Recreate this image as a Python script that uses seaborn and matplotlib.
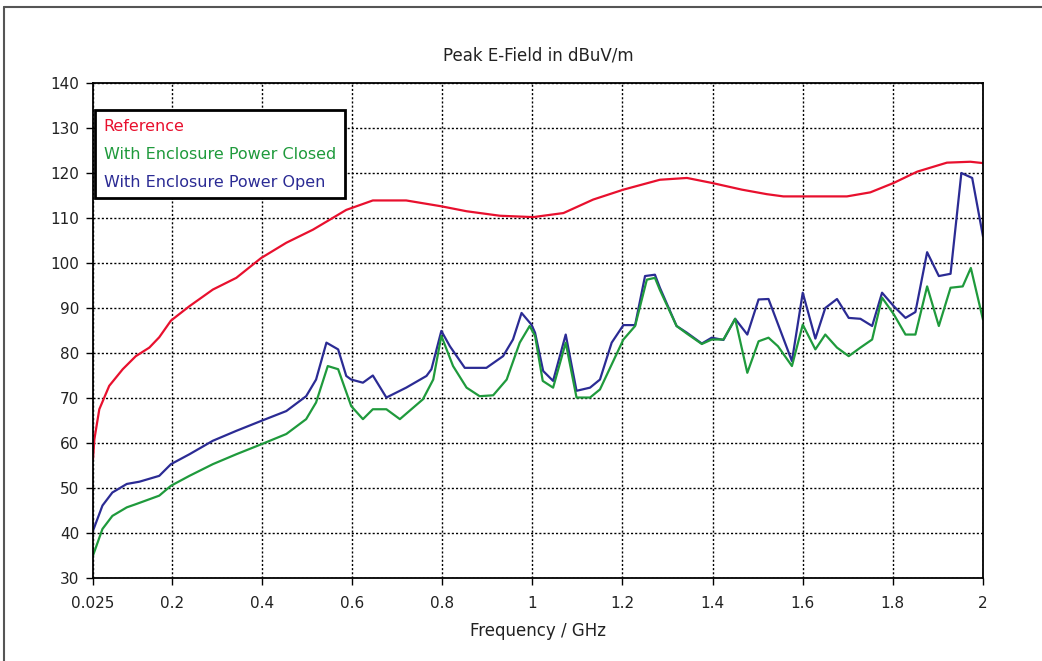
import matplotlib
matplotlib.use("Agg")
import matplotlib.pyplot as plt
import seaborn as sns
import pandas as pd
from matplotlib.lines import Line2D

# ---------------- data ----------------
ref_freq = [0.025, 0.028, 0.039, 0.061, 0.091, 0.120, 0.150, 0.172, 0.198, 0.239,
            0.291, 0.343, 0.398, 0.454, 0.513, 0.587, 0.646, 0.720, 0.798, 0.854,
            0.928, 1.002, 1.069, 1.135, 1.202, 1.283, 1.343, 1.398, 1.465, 1.520,
            1.557, 1.600, 1.698, 1.750, 1.802, 1.854, 1.920, 1.972, 2.000]
ref_val = [56.4, 60.8, 67.5, 72.7, 76.4, 79.3, 81.2, 83.5, 87.2, 90.4,
           94.1, 96.7, 101.1, 104.5, 107.4, 111.8, 113.9, 113.9, 112.6, 111.5,
           110.5, 110.2, 111.1, 114.1, 116.3, 118.5, 118.9, 117.8, 116.3, 115.3,
           114.8, 114.8, 114.8, 115.7, 117.8, 120.3, 122.3, 122.5, 122.2]

open_freq = [0.025, 0.046, 0.068, 0.100, 0.128, 0.172, 0.198, 0.239, 0.291, 0.343,
             0.398, 0.454, 0.498, 0.520, 0.543, 0.569, 0.587, 0.598, 0.624, 0.646,
             0.676, 0.720, 0.765, 0.776, 0.798, 0.817, 0.850, 0.898, 0.935, 0.957,
             0.976, 0.998, 1.006, 1.024, 1.046, 1.074, 1.098, 1.128, 1.150, 1.176,
             1.202, 1.228, 1.250, 1.272, 1.283, 1.320, 1.343, 1.376, 1.398, 1.424,
             1.450, 1.477, 1.502, 1.524, 1.576, 1.600, 1.628, 1.650, 1.676, 1.702,
             1.728, 1.754, 1.776, 1.802, 1.828, 1.850, 1.876, 1.902, 1.928, 1.952,
             1.976, 2.000]
open_val = [40.5, 46.1, 49.0, 50.9, 51.4, 52.7, 55.3, 57.5, 60.5, 62.7,
            64.9, 67.1, 70.4, 74.1, 82.3, 80.8, 74.9, 74.1, 73.4, 75.0,
            70.1, 72.3, 74.9, 76.4, 84.9, 81.5, 76.7, 76.7, 79.3, 83.0,
            88.9, 86.3, 84.5, 76.0, 73.8, 84.1, 71.6, 72.3, 74.1, 82.3,
            86.2, 86.2, 97.1, 97.4, 94.5, 86.0, 84.5, 82.1, 83.4, 82.9,
            87.6, 84.1, 91.9, 92.0, 78.2, 93.4, 83.2, 90.0, 92.0, 87.8,
            87.6, 86.0, 93.4, 90.4, 87.8, 89.1, 102.4, 97.1, 97.6, 120.0,
            118.9, 105.9]

closed_freq = [0.025, 0.046, 0.068, 0.100, 0.120, 0.172, 0.198, 0.239, 0.291, 0.343,
               0.398, 0.454, 0.498, 0.520, 0.546, 0.569, 0.598, 0.624, 0.646, 0.676,
               0.706, 0.757, 0.780, 0.798, 0.824, 0.854, 0.883, 0.913, 0.943, 0.972,
               0.994, 1.006, 1.023, 1.046, 1.074, 1.098, 1.128, 1.150, 1.202, 1.228,
               1.254, 1.272, 1.283, 1.320, 1.343, 1.376, 1.398, 1.424, 1.450, 1.477,
               1.502, 1.524, 1.545, 1.576, 1.600, 1.628, 1.650, 1.676, 1.702, 1.728,
               1.754, 1.776, 1.802, 1.828, 1.850, 1.876, 1.902, 1.928, 1.955, 1.973,
               2.000]
closed_val = [35.0, 40.9, 43.8, 45.7, 46.4, 48.3, 50.5, 52.7, 55.3, 57.5,
              59.7, 62.0, 65.3, 69.0, 77.1, 76.4, 68.2, 65.3, 67.5, 67.5,
              65.3, 69.7, 74.1, 83.8, 77.1, 72.3, 70.4, 70.6, 74.1, 82.3,
              86.0, 83.8, 73.8, 72.3, 82.3, 70.1, 70.1, 71.9, 83.0, 86.0,
              96.3, 96.7, 94.0, 86.0, 84.3, 82.0, 83.0, 83.0, 87.6, 75.6,
              82.6, 83.4, 81.5, 77.1, 86.3, 80.8, 84.1, 81.2, 79.3, 81.2,
              83.0, 92.3, 88.6, 84.1, 84.1, 94.8, 86.0, 94.5, 94.8, 98.9,
              87.4]

series_names = ["Reference", "With Enclosure Power Closed", "With Enclosure Power Open"]
series_colors = ["#e8102e", "#1f9a3c", "#2b2b94"]

x_ticks = [0.025, 0.2, 0.4, 0.6, 0.8, 1.0, 1.2, 1.4, 1.6, 1.8, 2.0]
x_tick_labels = ["0.025", "0.2", "0.4", "0.6", "0.8", "1", "1.2", "1.4", "1.6", "1.8", "2"]
y_ticks = [30, 40, 50, 60, 70, 80, 90, 100, 110, 120, 130, 140]

# ---------------- figure ----------------
sns.set_theme(style="white")
plt.rcParams['font.family'] = ['DejaVu Sans']

W, H = 1042, 661
fig = plt.figure(figsize=(W / 100, H / 100), dpi=100)
fig.patch.set_facecolor("white")
ax = fig.add_axes([93 / W, 1 - 578 / H, 890 / W, 495 / H])

df = pd.concat([
    pd.DataFrame({"freq": ref_freq, "val": ref_val, "series": series_names[0]}),
    pd.DataFrame({"freq": closed_freq, "val": closed_val, "series": series_names[1]}),
    pd.DataFrame({"freq": open_freq, "val": open_val, "series": series_names[2]}),
], ignore_index=True)

palette = dict(zip(series_names, series_colors))
sns.lineplot(data=df, x="freq", y="val", hue="series", hue_order=series_names[::-1],
             palette=palette, estimator=None, sort=False, linewidth=1.6,
             legend=False, ax=ax)

ax.set_xlim(0.025, 2.0)
ax.set_ylim(30, 140)
ax.set_xticks(x_ticks)
ax.set_xticklabels(x_tick_labels)
ax.set_yticks(y_ticks)
ax.grid(True, color="black", linestyle=(0, (1.5, 1.5)), linewidth=1.0)
ax.set_axisbelow(True)
for sp in ax.spines.values():
    sp.set_color("black")
    sp.set_linewidth(1.3)
    sp.set_visible(True)
ax.tick_params(axis="both", direction="out", length=5, width=1, colors="black",
               labelsize=11, bottom=True, left=True)
ax.tick_params(axis="x", pad=8)
ax.tick_params(axis="y", pad=5)
for lbl in ax.get_xticklabels() + ax.get_yticklabels():
    lbl.set_color("#222222")

ax.set_title("Peak E-Field in dBuV/m", fontsize=12, pad=16, color="#222222")
ax.set_xlabel("Frequency / GHz", fontsize=12, labelpad=8, color="#222222")
ax.set_ylabel("")

handles = [Line2D([], [], color=c) for c in series_colors]
leg = ax.legend(handles, series_names, loc="upper left", bbox_to_anchor=(0.002, 0.945),
                borderaxespad=0, handlelength=0, handletextpad=0, labelcolor="linecolor",
                frameon=True, fancybox=False, edgecolor="black", framealpha=1,
                fontsize=11.5, borderpad=0.55, labelspacing=0.8)
leg.get_frame().set_linewidth(2)

# outer border of the picture (top and left visible)
fig.add_artist(Line2D([4 / W, 4 / W], [0, 1 - 7 / H], transform=fig.transFigure,
                      color="#555555", lw=1.5))
fig.add_artist(Line2D([4 / W, 1], [1 - 7 / H, 1 - 7 / H], transform=fig.transFigure,
                      color="#555555", lw=1.5))

fig.savefig("out.png", dpi=100)
